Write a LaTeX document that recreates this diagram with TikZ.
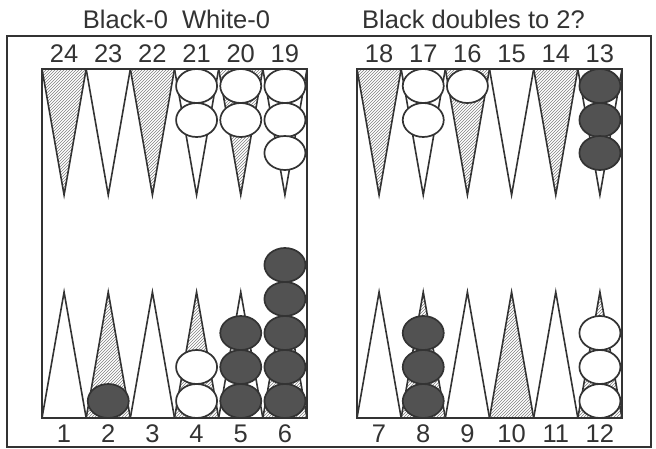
\documentclass[tikz,border=0pt]{standalone}
\usepackage{fontspec}
\setmainfont{Liberation Sans}
\usetikzlibrary{patterns}
\begin{document}
\begin{tikzpicture}[x=1pt,y=-1pt,
  ln/.style={draw=black!80, line width=1.8pt},
  pt/.style={draw=black!80, line width=1.6pt, line join=miter, miter limit=30},
  hatch/.style={pattern=north east lines, pattern color=black!50},
  wck/.style={draw=black!80, line width=1.7pt, fill=white},
  bck/.style={draw=black!80, line width=1.7pt, fill=black!68},
  lab/.style={font=\fontsize{25.5}{30}\selectfont, text=black!80, anchor=base, inner sep=0pt}
]
\useasboundingbox (0,0) rectangle (656,449);
% outer frame
\draw[draw=black!80, line width=1.7pt] (7,36) rectangle (651,447);
% points
\foreach \bx in {42,357}{
  \foreach \c in {0,...,5}{
    \pgfmathsetmacro\xl{\bx+\c*44.1667}
    \pgfmathsetmacro\xr{\xl+44.1667}
    \pgfmathsetmacro\xm{\xl+22.0833}
    \ifodd\c\relax
      \draw[pt] (\xl,69) -- (\xr,69) -- (\xm,195) -- cycle;
      \draw[pt,hatch] (\xl,418) -- (\xr,418) -- (\xm,292) -- cycle;
    \else
      \draw[pt,hatch] (\xl,69) -- (\xr,69) -- (\xm,195) -- cycle;
      \draw[pt] (\xl,418) -- (\xr,418) -- (\xm,292) -- cycle;
    \fi
  }}
% boards
\draw[ln] (42,69) rectangle (307,418);
\draw[ln] (357,69) rectangle (622,418);
% checkers
\foreach \x/\y/\s in {108.25/401/bck,
  196.58/401/wck, 196.58/367/wck,
  240.75/401/bck, 240.75/367/bck, 240.75/333/bck,
  284.92/401/bck, 284.92/367/bck, 284.92/333/bck, 284.92/299/bck, 284.92/265/bck,
  423.25/401/bck, 423.25/367/bck, 423.25/333/bck,
  599.92/401/wck, 599.92/367/wck, 599.92/333/wck,
  196.58/86/wck, 196.58/120/wck,
  240.75/86/wck, 240.75/120/wck,
  284.92/86/wck, 284.92/120/wck, 284.92/153/wck,
  423.25/86/wck, 423.25/120/wck,
  467.42/86/wck,
  599.92/86/bck, 599.92/120/bck, 599.92/153/bck}
  \draw[\s] (\x,\y) ellipse [x radius=20.5pt, y radius=17pt];
% titles
\node[lab] (t1) at (176.5,29) {Black-0\ \ White-0};
\node[lab] (t2) at (473.5,29) {Black doubles to 2?};
% top labels
\foreach \n/\x in {24/64.08,23/108.25,22/152.42,21/196.58,20/240.75,19/284.92,
  18/379.08,17/423.25,16/467.42,15/511.58,14/555.75,13/599.92}
  \node[lab] (p\n) at (\x,63) {\n};
% bottom labels
\foreach \n/\x in {1/64.08,2/108.25,3/152.42,4/196.58,5/240.75,6/284.92,
  7/379.08,8/423.25,9/467.42,10/511.58,11/555.75,12/599.92}
  \node[lab] (p\n) at (\x,442) {\n};
\end{tikzpicture}
\end{document}
